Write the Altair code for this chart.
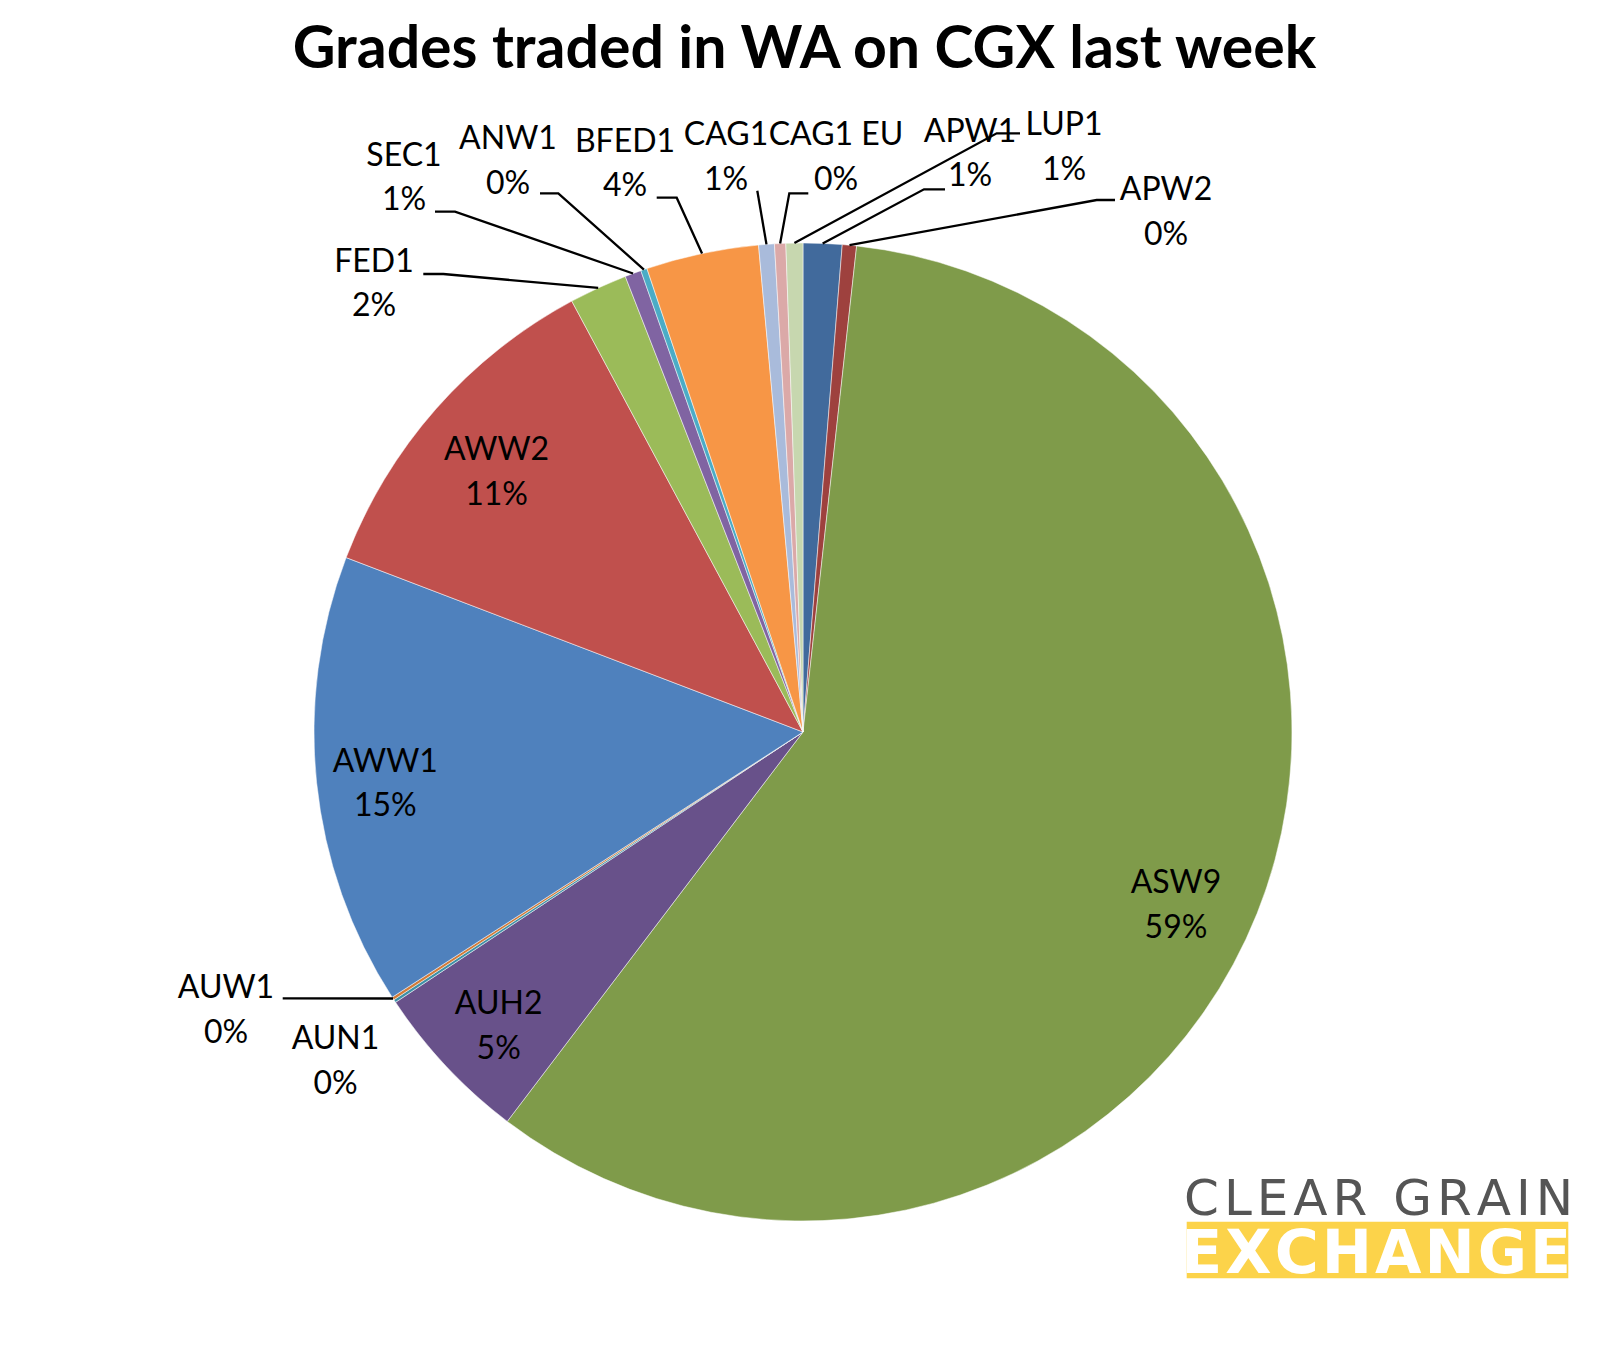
import math
import altair as alt
import pandas as pd

# ---------------- data ----------------
grades = ["APW1", "APW2", "ASW9", "AUH2", "AUN1", "AUW1", "AWW1", "AWW2",
          "FED1", "SEC1", "ANW1", "BFED1", "CAG1", "CAG1 EU", "LUP1"]
shares = [1.28, 0.47, 58.60, 5.34, 0.10, 0.10, 14.93, 11.36,
          1.92, 0.54, 0.21, 3.72, 0.52, 0.37, 0.56]
colors = ["#416A9C", "#9E413E", "#7F9B4A", "#68518A", "#3E90A6", "#D27B38",
          "#4F81BD", "#C0504D", "#9BBB59", "#8064A2", "#4BACC6", "#F79646",
          "#A9BBDB", "#DBA9A8", "#C7D7AF"]
title_text = "Grades traded in WA on CGX last week"
logo_top = "CLEAR GRAIN"
logo_bottom = "EXCHANGE"

# ---------------- layout (page pixel coordinates) ----------------
W, H = 1590, 1330
CX, CY, R = 803, 732, 489
LINE_GAP = 44.5
# label: (center x, first-line baseline, leader [(end x, y), (elbow x, y)] or None)
label_layout = {
    "APW1": (970, 141.7, [(945, 189.3), (924, 189.3)]),
    "APW2": (1166, 200.0, [(1115, 200.0), (1096.7, 200.0)]),
    "ASW9": (1176, 893.3, None),
    "AUH2": (498.7, 1014.0, None),
    "AUN1": (335.5, 1049.3, None),
    "AUW1": (226, 998.3, [(282.7, 998.3), (290, 998.3)]),
    "AWW1": (385.3, 771.7, None),
    "AWW2": (496.6, 460.0, None),
    "FED1": (374, 271.7, [(423.3, 274.0), (443.3, 274.0)]),
    "SEC1": (404, 165.7, [(435, 211.7), (455, 211.7)]),
    "ANW1": (508, 149.3, [(540, 193.3), (558.3, 193.3)]),
    "BFED1": (625, 151.7, [(656.7, 197.7), (676.7, 197.7)]),
    "CAG1": (726, 145.0, [(757.3, 190.7), (757.3, 190.7)]),
    "CAG1 EU": (836, 145.0, [(808.3, 193.3), (789.3, 193.3)]),
    "LUP1": (1064, 135.0, [(1020, 133.3), (996.7, 133.3)]),
}

total = sum(shares)
slices = pd.DataFrame({"grade": grades, "share": shares, "idx": range(len(grades))})

text_rows, line_rows = [], []
cum = 0.0
for g, v in zip(grades, shares):
    mid = (cum + v / 2) / total * 2 * math.pi
    cum += v
    lx, b1, leader = label_layout[g]
    pct = f"{int(round(v))}%"
    text_rows.append({"grade": g, "x": lx, "y": b1, "t": g})
    text_rows.append({"grade": g, "x": lx, "y": b1 + LINE_GAP, "t": pct})
    if leader:
        ex, ey = CX + R * math.sin(mid), CY - R * math.cos(mid)
        pts = leader + [(ex, ey)]
        for k, (px, py) in enumerate(pts):
            line_rows.append({"grade": g, "pt": k, "x": px, "y": py})

texts = pd.DataFrame(text_rows)
lines = pd.DataFrame(line_rows)

# logo letters, spaced out (DejaVu Sans advance widths in em)
ADV = {"C": .698, "L": .557, "E": .632, "A": .684, "R": .695, " ": .318,
       "G": .775, "I": .295, "N": .748}
ADV_B = {"E": .683, "X": .774, "C": .734, "H": .837, "A": .774, "N": .837, "G": .821}


def spaced(word, adv, size, start, track, y):
    rows, x = [], start
    for ch in word:
        rows.append({"x": x, "y": y, "t": ch})
        x += adv[ch] * size + track
    return pd.DataFrame(rows)


logo1 = spaced(logo_top, ADV, 50, 1184.0, 5.0, 1215.0)
logo2 = spaced(logo_bottom, ADV_B, 60, 1181.3, 3.0, 1273.0)

XS = alt.Scale(domain=[8, 8 + W], nice=False, zero=False)
YS = alt.Scale(domain=[8, 8 + H], nice=False, zero=False, reverse=True)


def xy():
    return dict(x=alt.X("x:Q", scale=XS, axis=None), y=alt.Y("y:Q", scale=YS, axis=None))


pie = alt.Chart(slices).mark_arc(outerRadius=R, stroke="white", strokeWidth=0.5).encode(
    theta=alt.Theta("share:Q", stack=True),
    order=alt.Order("idx:Q"),
    color=alt.Color("grade:N", scale=alt.Scale(domain=grades, range=colors), legend=None),
    x=alt.XDatum(CX, type="quantitative", scale=XS, axis=None),
    y=alt.YDatum(CY, type="quantitative", scale=YS, axis=None),
)

leaders = alt.Chart(lines).mark_line(color="black", strokeWidth=2.3).encode(
    detail="grade:N", order=alt.Order("pt:Q"), **xy()
)

labels = alt.Chart(texts).mark_text(
    font="Lato", fontSize=32, color="black", align="center", baseline="alphabetic"
).encode(text="t:N", **xy())

title_df = pd.DataFrame({"x": [804.5], "y": [68], "t": [title_text]})
title = alt.Chart(title_df).mark_text(
    font="Lato", fontSize=59, fontWeight="bold", color="black", align="center", baseline="alphabetic"
).encode(text="t:N", **xy())

logo_rect = alt.Chart(pd.DataFrame({"a": [0]})).mark_rect(color="#FCD34A").encode(
    x=alt.XDatum(1186.7, type="quantitative", scale=XS, axis=None),
    x2=alt.X2Datum(1568.3),
    y=alt.YDatum(1221.7, type="quantitative", scale=YS, axis=None),
    y2=alt.Y2Datum(1278.3),
)
logo_t1 = alt.Chart(logo1).mark_text(
    font="DejaVu Sans", fontSize=50, color="#555555", align="left", baseline="alphabetic"
).encode(text="t:N", **xy())
logo_t2 = alt.Chart(logo2).mark_text(
    font="DejaVu Sans", fontSize=60, fontWeight="bold", color="white", align="left", baseline="alphabetic"
).encode(text="t:N", **xy())

chart = alt.layer(pie, leaders, labels, title, logo_rect, logo_t1, logo_t2).properties(
    width=W, height=H, padding=0, autosize=alt.AutoSizeParams(type="none")
).configure_view(stroke=None)

chart.save("out.html", embed_options={"renderer": "svg", "actions": False})
